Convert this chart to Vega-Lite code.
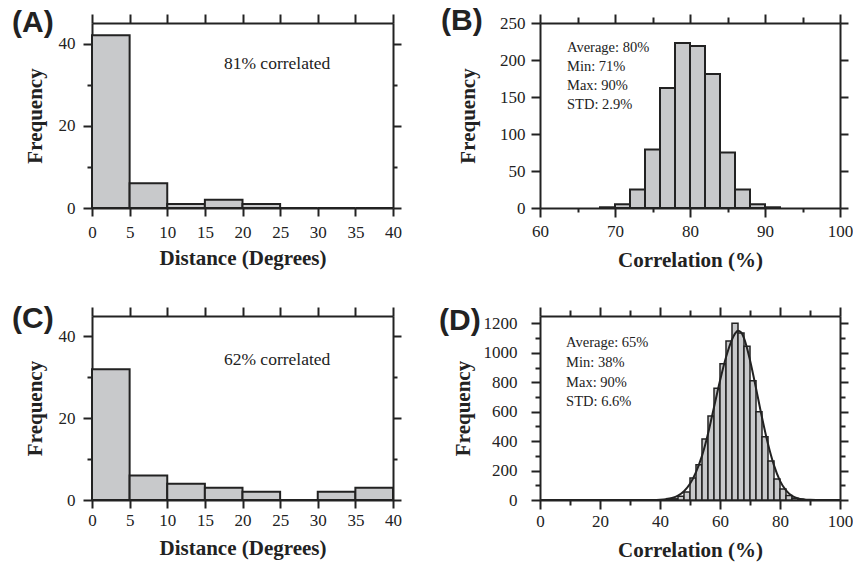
{
  "$schema": "https://vega.github.io/schema/vega-lite/v6.json",
  "padding": {"left": 12, "top": 6, "right": 5, "bottom": 5},
  "background": "white",
  "datasets": {
    "a": [
      {"start": 0, "end": 5, "count": 42}, {"start": 5, "end": 10, "count": 6},
      {"start": 10, "end": 15, "count": 1}, {"start": 15, "end": 20, "count": 2},
      {"start": 20, "end": 25, "count": 1}, {"start": 25, "end": 30, "count": 0},
      {"start": 30, "end": 35, "count": 0}, {"start": 35, "end": 40, "count": 0}
    ],
    "b": [
      {"start": 68, "end": 70, "count": 1}, {"start": 70, "end": 72, "count": 5},
      {"start": 72, "end": 74, "count": 25}, {"start": 74, "end": 76, "count": 79},
      {"start": 76, "end": 78, "count": 162}, {"start": 78, "end": 80, "count": 223},
      {"start": 80, "end": 82, "count": 219}, {"start": 82, "end": 84, "count": 181},
      {"start": 84, "end": 86, "count": 75}, {"start": 86, "end": 88, "count": 25},
      {"start": 88, "end": 90, "count": 5}, {"start": 90, "end": 92, "count": 1}
    ],
    "c": [
      {"start": 0, "end": 5, "count": 32}, {"start": 5, "end": 10, "count": 6},
      {"start": 10, "end": 15, "count": 4}, {"start": 15, "end": 20, "count": 3},
      {"start": 20, "end": 25, "count": 2}, {"start": 25, "end": 30, "count": 0},
      {"start": 30, "end": 35, "count": 2}, {"start": 35, "end": 40, "count": 3}
    ],
    "d": [
      {"start": 40, "end": 42, "count": 1}, {"start": 42, "end": 44, "count": 3},
      {"start": 44, "end": 46, "count": 8}, {"start": 46, "end": 48, "count": 25},
      {"start": 48, "end": 50, "count": 55}, {"start": 50, "end": 52, "count": 150},
      {"start": 52, "end": 54, "count": 240}, {"start": 54, "end": 56, "count": 415},
      {"start": 56, "end": 58, "count": 570}, {"start": 58, "end": 60, "count": 760},
      {"start": 60, "end": 62, "count": 925}, {"start": 62, "end": 64, "count": 1080},
      {"start": 64, "end": 66, "count": 1200}, {"start": 66, "end": 68, "count": 1135},
      {"start": 68, "end": 70, "count": 1045}, {"start": 70, "end": 72, "count": 810},
      {"start": 72, "end": 74, "count": 600}, {"start": 74, "end": 76, "count": 430},
      {"start": 76, "end": 78, "count": 265}, {"start": 78, "end": 80, "count": 142},
      {"start": 80, "end": 82, "count": 74}, {"start": 82, "end": 84, "count": 30},
      {"start": 84, "end": 86, "count": 12}, {"start": 86, "end": 88, "count": 4},
      {"start": 88, "end": 90, "count": 1}
    ],
    "dcurve": [
      {"x": 0, "y": 0}, {"x": 38, "y": 0}, {"x": 40, "y": 2}, {"x": 42, "y": 6},
      {"x": 44, "y": 14}, {"x": 46, "y": 30}, {"x": 48, "y": 60}, {"x": 50, "y": 110},
      {"x": 52, "y": 190}, {"x": 54, "y": 300}, {"x": 55, "y": 370}, {"x": 56, "y": 450},
      {"x": 58, "y": 630}, {"x": 60, "y": 810}, {"x": 62, "y": 970}, {"x": 64, "y": 1090},
      {"x": 65, "y": 1130}, {"x": 66, "y": 1150}, {"x": 67, "y": 1140}, {"x": 68, "y": 1100},
      {"x": 70, "y": 950}, {"x": 72, "y": 760}, {"x": 74, "y": 560}, {"x": 76, "y": 380},
      {"x": 78, "y": 235}, {"x": 80, "y": 130}, {"x": 82, "y": 65}, {"x": 84, "y": 28},
      {"x": 86, "y": 11}, {"x": 88, "y": 4}, {"x": 90, "y": 1}, {"x": 92, "y": 0}, {"x": 100, "y": 0}
    ]
  },
  "config": {
    "view": {"stroke": null},
    "axis": {
      "domainColor": "#222", "domainWidth": 2, "tickColor": "#222", "tickWidth": 2,
      "labelFont": "Liberation Serif", "labelFontSize": 17, "labelColor": "#222",
      "titleFont": "Liberation Serif", "titleFontSize": 21, "titleFontWeight": "bold", "titleColor": "#222",
      "grid": false, "labelFlush": false, "labelOverlap": false, "labelBound": false
    },
    "title": {"font": "Liberation Sans", "fontSize": 30, "fontWeight": "bold", "anchor": "start", "frame": "group", "color": "#222", "offset": 0, "baseline": "alphabetic"},
    "text": {"font": "Liberation Serif", "color": "#222"}
  },
  "columns": 2,
  "bounds": "flush",
  "spacing": {"row": 108, "column": 147},
  "concat": [
    {
      "width": 301, "height": 185,
      "title": {"text": "(A)", "dx": -80, "dy": 29},
      "layer": [
        {
          "data": {"name": "a"},
          "mark": {"type": "bar", "fill": "#c8c9cb", "stroke": "#222", "strokeWidth": 2},
          "encoding": {
            "x": {"field": "start", "type": "quantitative", "scale": {"domain": [0, 40], "nice": false},
              "axis": {"orient": "bottom", "title": "Distance (Degrees)", "values": [0,5,10,15,20,25,30,35,40], "tickSize": 8, "labelPadding": 8, "titlePadding": 7}},
            "x2": {"field": "end"},
            "y": {"field": "count", "type": "quantitative", "scale": {"domain": [0, 45], "nice": false},
              "axis": {"orient": "left", "title": "Frequency", "values": [0,10,20,30,40], "labelExpr": "datum.value % 20 === 0 ? datum.label : ''", "tickSize": {"condition": {"test": "datum.value % 20 === 0", "value": 9}, "value": 5}, "labelPadding": 8, "titlePadding": 13}},
            "y2": {"datum": 0}
          }
        },
        {
          "data": {"values": [{}]},
          "mark": {"type": "text", "fontSize": 17.5, "baseline": "middle", "align": "center"},
          "encoding": {
            "x": {"datum": 24.6, "type": "quantitative", "axis": null},
            "y": {"datum": 35, "type": "quantitative", "axis": null},
            "text": {"value": "81% correlated"}
          }
        },
        {
          "data": {"name": "a"},
          "mark": {"type": "point", "opacity": 0},
          "encoding": {
            "x": {"field": "start", "type": "quantitative", "axis": {"orient": "top", "title": null, "labels": false, "values": [0,5,10,15,20,25,30,35,40], "tickSize": 9}},
            "y": {"field": "count", "type": "quantitative", "axis": {"orient": "right", "title": null, "labels": false, "values": [0,10,20,30,40], "tickSize": {"condition": {"test": "datum.value % 20 === 0", "value": 8}, "value": 4}}}
          }
        }
      ],
      "resolve": {"axis": {"x": "independent", "y": "independent"}}
    },
    {
      "width": 300, "height": 185,
      "title": {"text": "(B)", "dx": -99, "dy": 27},
      "layer": [
        {
          "data": {"name": "b"},
          "mark": {"type": "bar", "fill": "#c8c9cb", "stroke": "#222", "strokeWidth": 2},
          "encoding": {
            "x": {"field": "start", "type": "quantitative", "scale": {"domain": [60, 100], "nice": false},
              "axis": {"orient": "bottom", "title": "Correlation (%)", "values": [60,65,70,75,80,85,90,95,100], "labelExpr": "datum.value % 10 === 0 ? datum.label : ''", "tickSize": {"condition": {"test": "datum.value % 10 === 0", "value": 9}, "value": 4}, "labelPadding": 6, "titlePadding": 10}},
            "x2": {"field": "end"},
            "y": {"field": "count", "type": "quantitative", "scale": {"domain": [0, 250], "nice": false},
              "axis": {"orient": "left", "title": "Frequency", "values": [0,50,100,150,200,250], "tickSize": 9, "labelPadding": 6, "titlePadding": 21}},
            "y2": {"datum": 0}
          }
        },
        {
          "data": {"values": [{}]},
          "mark": {"type": "text", "fontSize": 14.5, "baseline": "top", "align": "left", "lineHeight": 19},
          "encoding": {
            "x": {"datum": 63.6, "type": "quantitative", "axis": null},
            "y": {"datum": 226, "type": "quantitative", "axis": null},
            "text": {"value": ["Average: 80%", "Min: 71%", "Max: 90%", "STD: 2.9%"]}
          }
        },
        {
          "data": {"name": "b"},
          "mark": {"type": "point", "opacity": 0},
          "encoding": {
            "x": {"field": "start", "type": "quantitative", "axis": {"orient": "top", "title": null, "labels": false, "values": [60,65,70,75,80,85,90,95,100], "tickSize": {"condition": {"test": "datum.value % 10 === 0", "value": 9}, "value": 6}}},
            "y": {"field": "count", "type": "quantitative", "axis": {"orient": "right", "title": null, "labels": false, "values": [0,50,100,150,200,250], "tickSize": 8}}
          }
        }
      ],
      "resolve": {"axis": {"x": "independent", "y": "independent"}}
    },
    {
      "width": 301, "height": 184,
      "title": {"text": "(C)", "dx": -80, "dy": 32},
      "layer": [
        {
          "data": {"name": "c"},
          "mark": {"type": "bar", "fill": "#c8c9cb", "stroke": "#222", "strokeWidth": 2},
          "encoding": {
            "x": {"field": "start", "type": "quantitative", "scale": {"domain": [0, 40], "nice": false},
              "axis": {"orient": "bottom", "title": "Distance (Degrees)", "values": [0,5,10,15,20,25,30,35,40], "tickSize": 8, "labelPadding": 4, "titlePadding": 9}},
            "x2": {"field": "end"},
            "y": {"field": "count", "type": "quantitative", "scale": {"domain": [0, 45], "nice": false},
              "axis": {"orient": "left", "title": "Frequency", "values": [0,10,20,30,40], "labelExpr": "datum.value % 20 === 0 ? datum.label : ''", "tickSize": {"condition": {"test": "datum.value % 20 === 0", "value": 9}, "value": 5}, "labelPadding": 8, "titlePadding": 13}},
            "y2": {"datum": 0}
          }
        },
        {
          "data": {"values": [{}]},
          "mark": {"type": "text", "fontSize": 17.5, "baseline": "middle", "align": "center"},
          "encoding": {
            "x": {"datum": 24.6, "type": "quantitative", "axis": null},
            "y": {"datum": 34.2, "type": "quantitative", "axis": null},
            "text": {"value": "62% correlated"}
          }
        },
        {
          "data": {"name": "c"},
          "mark": {"type": "point", "opacity": 0},
          "encoding": {
            "x": {"field": "start", "type": "quantitative", "axis": {"orient": "top", "title": null, "labels": false, "values": [0,5,10,15,20,25,30,35,40], "tickSize": 9}},
            "y": {"field": "count", "type": "quantitative", "axis": {"orient": "right", "title": null, "labels": false, "values": [0,10,20,30,40], "tickSize": {"condition": {"test": "datum.value % 20 === 0", "value": 8}, "value": 4}}}
          }
        }
      ],
      "resolve": {"axis": {"x": "independent", "y": "independent"}}
    },
    {
      "width": 300, "height": 184,
      "title": {"text": "(D)", "dx": -101, "dy": 34},
      "layer": [
        {
          "data": {"name": "d"},
          "mark": {"type": "bar", "fill": "#c8c9cb", "stroke": "#222", "strokeWidth": 1.5},
          "encoding": {
            "x": {"field": "start", "type": "quantitative", "scale": {"domain": [0, 100], "nice": false},
              "axis": {"orient": "bottom", "title": "Correlation (%)", "values": [0,10,20,30,40,50,60,70,80,90,100], "labelExpr": "datum.value % 20 === 0 ? datum.label : ''", "tickSize": {"condition": {"test": "datum.value % 20 === 0", "value": 9}, "value": 5}, "labelPadding": 4, "titlePadding": 10}},
            "x2": {"field": "end"},
            "y": {"field": "count", "type": "quantitative", "scale": {"domain": [0, 1250], "nice": false},
              "axis": {"orient": "left", "title": "Frequency", "values": [0,100,200,300,400,500,600,700,800,900,1000,1100,1200], "labelExpr": "datum.value % 200 === 0 ? datum.label : ''", "format": "d", "tickSize": {"condition": {"test": "datum.value % 200 === 0", "value": 9}, "value": 5}, "labelPadding": 14, "titlePadding": 10}},
            "y2": {"datum": 0}
          }
        },
        {
          "data": {"name": "dcurve"},
          "mark": {"type": "line", "stroke": "#222", "strokeWidth": 2, "interpolate": "monotone"},
          "encoding": {
            "x": {"field": "x", "type": "quantitative", "axis": null},
            "y": {"field": "y", "type": "quantitative", "axis": null}
          }
        },
        {
          "data": {"values": [{}]},
          "mark": {"type": "text", "fontSize": 14.5, "baseline": "top", "align": "left", "lineHeight": 19.7},
          "encoding": {
            "x": {"datum": 8.7, "type": "quantitative", "axis": null},
            "y": {"datum": 1113, "type": "quantitative", "axis": null},
            "text": {"value": ["Average: 65%", "Min: 38%", "Max: 90%", "STD: 6.6%"]}
          }
        },
        {
          "data": {"name": "d"},
          "mark": {"type": "point", "opacity": 0},
          "encoding": {
            "x": {"field": "start", "type": "quantitative", "axis": {"orient": "top", "title": null, "labels": false, "values": [0,10,20,30,40,50,60,70,80,90,100], "tickSize": {"condition": {"test": "datum.value % 20 === 0", "value": 9}, "value": 6}}},
            "y": {"field": "count", "type": "quantitative", "axis": {"orient": "right", "title": null, "labels": false, "values": [0,100,200,300,400,500,600,700,800,900,1000,1100,1200], "tickSize": {"condition": {"test": "datum.value % 200 === 0", "value": 8}, "value": 5}}}
          }
        }
      ],
      "resolve": {"axis": {"x": "independent", "y": "independent"}}
    }
  ]
}
